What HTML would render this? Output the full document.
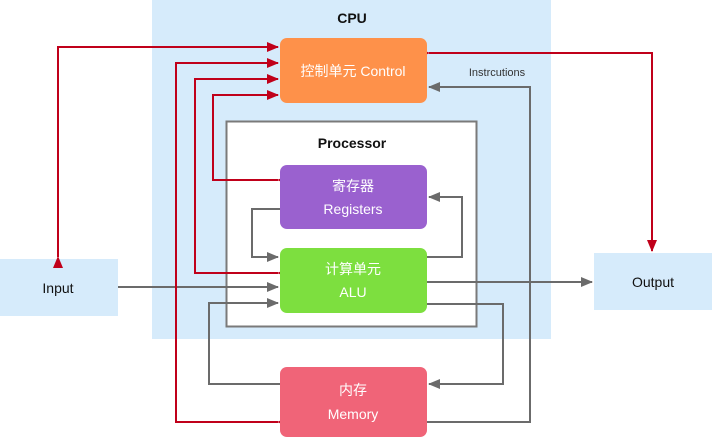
<!DOCTYPE html>
<html><head><meta charset="utf-8"><style>
body{margin:0;background:#fff;}
svg{display:block;font-family:"Liberation Sans","Noto Sans CJK SC",sans-serif;}
</style></head><body>
<svg width="718" height="439" viewBox="0 0 718 439" xmlns="http://www.w3.org/2000/svg">
<defs>
<marker id="r" markerWidth="12" markerHeight="10" refX="11" refY="5" orient="auto" markerUnits="userSpaceOnUse"><path d="M0,0 L12,5 L0,10 z" fill="#c0001a"/></marker>
<marker id="g" markerWidth="12" markerHeight="10" refX="11" refY="5" orient="auto" markerUnits="userSpaceOnUse"><path d="M0,0 L12,5 L0,10 z" fill="#6b6b6b"/></marker>
</defs>
<rect x="152" y="0" width="399" height="339" fill="#d6ebfb"/>
<text x="352" y="23" font-size="14" font-weight="bold" text-anchor="middle" fill="#111">CPU</text>
<rect x="226.5" y="121.5" width="250" height="205" fill="#fff" stroke="#7a7a7a" stroke-width="2"/>
<text x="352" y="148" font-size="14" font-weight="bold" text-anchor="middle" fill="#111">Processor</text>
<rect x="0" y="259" width="118" height="57" fill="#d6ebfb"/>
<text x="58" y="293" font-size="14" text-anchor="middle" fill="#111">Input</text>
<rect x="594" y="253" width="118" height="57" fill="#d6ebfb"/>
<text x="653" y="287" font-size="14" text-anchor="middle" fill="#111">Output</text>

<g fill="none" stroke="#6b6b6b" stroke-width="2">
<path d="M427,422 H530 V87 H429" marker-end="url(#g)"/>
<path d="M427,257 H462 V197 H429" marker-end="url(#g)"/>
<path d="M280,209 H252 V257 H278" marker-end="url(#g)"/>
<path d="M427,282 H592" marker-end="url(#g)"/>
<path d="M118,287 H278" marker-end="url(#g)"/>
<path d="M280,384 H209 V303 H278" marker-end="url(#g)"/>
<path d="M427,304 H503 V384 H429" marker-end="url(#g)"/>
</g>
<text x="497" y="76" font-size="11" text-anchor="middle" fill="#333">Instrcutions</text>

<g fill="none" stroke="#c0001a" stroke-width="2">
<path d="M58,257 V47 H278" marker-start="url(#r)" marker-end="url(#r)"/>
<path d="M278,422 H176 V63 H278" marker-start="url(#r)" marker-end="url(#r)"/>
<path d="M278,273 H195 V79 H278" marker-start="url(#r)" marker-end="url(#r)"/>
<path d="M278,180 H213 V95 H278" marker-start="url(#r)" marker-end="url(#r)"/>
<path d="M429,53 H652 V251" marker-start="url(#r)" marker-end="url(#r)"/>
</g>

<rect x="280" y="38" width="147" height="65" rx="7" fill="#fe914a"/>
<text x="353" y="76" font-size="14" text-anchor="middle" fill="#fff">控制单元 Control</text>
<rect x="280" y="165" width="147" height="64" rx="7" fill="#9a61cf"/>
<text x="353" y="191" font-size="14" text-anchor="middle" fill="#fff">寄存器</text>
<text x="353" y="214" font-size="14" text-anchor="middle" fill="#fff">Registers</text>
<rect x="280" y="248" width="147" height="65" rx="7" fill="#7ddf3f"/>
<text x="353" y="274" font-size="14" text-anchor="middle" fill="#fff">计算单元</text>
<text x="353" y="297" font-size="14" text-anchor="middle" fill="#fff">ALU</text>
<rect x="280" y="367" width="147" height="70" rx="7" fill="#f06478"/>
<text x="353" y="395" font-size="14" text-anchor="middle" fill="#fff">内存</text>
<text x="353" y="419" font-size="14" text-anchor="middle" fill="#fff">Memory</text>
</svg>
</body></html>
